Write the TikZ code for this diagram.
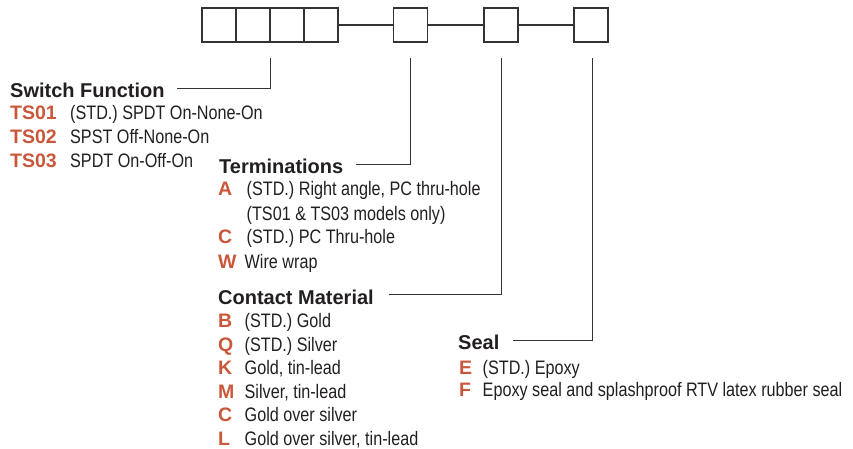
\documentclass[tikz,border=0pt]{standalone}
\usepackage{fontspec}
\setmainfont{Liberation Sans}
\newfontfamily\condfont[FakeStretch=0.83]{Liberation Sans}
\definecolor{codecol}{HTML}{C9573A}
\definecolor{inkcol}{HTML}{231F20}
\definecolor{linecol}{HTML}{333333}
\tikzset{
  slot/.style={draw=linecol,line width=1.1pt,minimum size=34pt,inner sep=0pt},
  joinline/.style={draw=linecol,line width=1.1pt},
  leader/.style={draw=linecol,line width=0.9pt},
  heading/.style={anchor=base west,inner sep=0pt,text=inkcol,font=\fontsize{20}{20}\selectfont\bfseries},
  codetxt/.style={anchor=base west,inner sep=0pt,text=codecol,font=\fontsize{19.5}{19.5}\selectfont\bfseries},
  desc/.style={anchor=base west,inner sep=0pt,text=inkcol,font=\condfont\fontsize{19.5}{19.5}\selectfont},
}
\begin{document}
\begin{tikzpicture}[x=1pt,y=-1pt]
\useasboundingbox (0,0) rectangle (853,449);
% boxes
\node[slot] (b1) at (219,25) {};
\node[slot] (b2) at (253,25) {};
\node[slot] (b3) at (287,25) {};
\node[slot] (b4) at (321,25) {};
\node[slot] (b5) at (410.7,25) {};
\node[slot] (b6) at (501,25) {};
\node[slot] (b7) at (591,25) {};
\draw[joinline] (b4.east) -- (b5.west);
\draw[joinline] (b5.east) -- (b6.west);
\draw[joinline] (b6.east) -- (b7.west);
% leader tops
\coordinate (c1) at (270,58);
\coordinate (c2) at (410.7,58);
\coordinate (c3) at (501,58);
\coordinate (c4) at (592,58);
% Switch Function
\node[heading] (sf) at (10,97.7) {Switch Function};
\draw[leader] ([xshift=12pt,yshift=2pt]sf.east) -| (c1);
\node[codetxt] (ts1) at (10,120) {TS01};
\node[desc] (ts1d) at (70,120) {(STD.) SPDT On-None-On};
\node[codetxt] (ts2) at (10,144) {TS02};
\node[desc] (ts2d) at (70,144) {SPST Off-None-On};
\node[codetxt] (ts3) at (10,167.5) {TS03};
\node[desc] (ts3d) at (70,167.5) {SPDT On-Off-On};
% Terminations
\node[heading] (tm) at (219,173.5) {Terminations};
\draw[leader] ([xshift=13pt,yshift=2pt]tm.east) -| (c2);
\node[codetxt] (ta) at (218,196) {A};
\node[desc] (tad) at (246.5,196) {(STD.) Right angle, PC thru-hole};
\node[desc] (tad2) at (246.5,220.5) {(TS01 \& TS03 models only)};
\node[codetxt] (tc) at (218,243.5) {C};
\node[desc] (tcd) at (246.5,243.5) {(STD.) PC Thru-hole};
\node[codetxt] (tw) at (218,268) {W};
\node[desc] (twd) at (244.5,268) {Wire wrap};
% Contact Material
\node[heading] (cm) at (218,304) {Contact Material};
\draw[leader] ([xshift=15pt,yshift=2pt]cm.east) -| (c3);
\node[codetxt] (mb) at (218,327.7) {B};
\node[desc] (mbd) at (244.5,327.7) {(STD.) Gold};
\node[codetxt] (mq) at (218,351) {Q};
\node[desc] (mqd) at (244.5,351) {(STD.) Silver};
\node[codetxt] (mk) at (218,374) {K};
\node[desc] (mkd) at (244.5,374) {Gold, tin-lead};
\node[codetxt] (mm) at (218,398) {M};
\node[desc] (mmd) at (244.5,398) {Silver, tin-lead};
\node[codetxt] (mc) at (218,421.7) {C};
\node[desc] (mcd) at (244.5,421.7) {Gold over silver};
\node[codetxt] (ml) at (218,445.5) {L};
\node[desc] (mld) at (244.5,445.5) {Gold over silver, tin-lead};
% Seal
\node[heading] (sl) at (458,349) {Seal};
\draw[leader] ([xshift=13pt,yshift=1pt]sl.east) -| (c4);
\node[codetxt] (se) at (459,374) {E};
\node[desc] (sed) at (482.5,374) {(STD.) Epoxy};
\node[codetxt] (sf2) at (459,396.5) {F};
\node[desc] (sfd) at (482.5,396.5) {Epoxy seal and splashproof RTV latex rubber seal};
\end{tikzpicture}
\end{document}
